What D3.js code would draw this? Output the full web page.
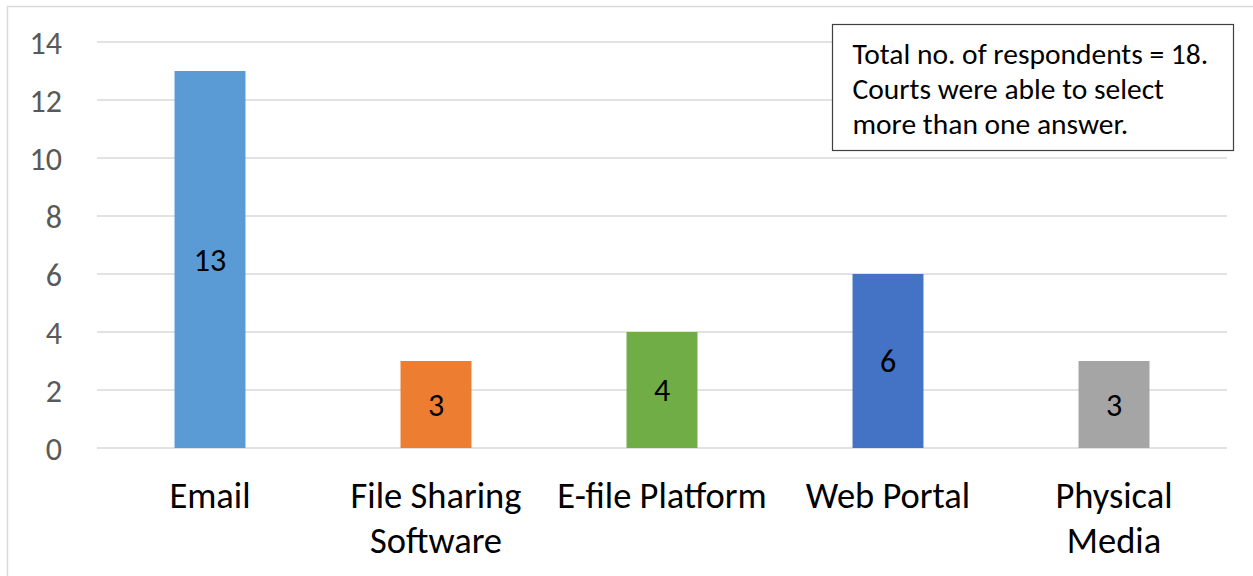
<!DOCTYPE html>
<html>
<head>
<meta charset="utf-8">
<script src="https://cdn.jsdelivr.net/npm/d3@7/dist/d3.min.js"></script>
<style>
  html, body { margin: 0; padding: 0; background: #fff; }
  svg { display: block; }
  text { font-family: Carlito, Calibri, Lato, "Open Sans", sans-serif; }
</style>
</head>
<body>
<svg id="chart" width="1253" height="576"></svg>
<script>
// Data: number of courts using each method to receive files
const categories = ["Email", "File Sharing Software", "E-file Platform", "Web Portal", "Physical Media"];
const categoryLines = [["Email"], ["File Sharing", "Software"], ["E-file Platform"], ["Web Portal"], ["Physical", "Media"]];
const values = [13, 3, 4, 6, 3];
const barColors = ["#5B9BD5", "#ED7D31", "#70AD47", "#4472C4", "#A5A5A5"];
const yTicks = [0, 2, 4, 6, 8, 10, 12, 14];
const noteLines = ["Total no. of respondents = 18.", "Courts were able to select", "more than one answer."];

const W = 1253, H = 576;
const plot = { left: 97, right: 1227, top: 42, bottom: 448 };

const svg = d3.select("#chart");

// outer chart frame (extends past the right and bottom edges)
svg.append("rect")
  .attr("x", 7.5).attr("y", 6.5)
  .attr("width", W + 20).attr("height", H + 20)
  .attr("fill", "#fff")
  .attr("stroke", "#d9d9d9").attr("stroke-width", 1.5);

const x = d3.scaleBand()
  .domain(categories)
  .range([plot.left, plot.right])
  .paddingInner(0.686).paddingOuter(0.343);

const y = d3.scaleLinear().domain([0, 14]).range([plot.bottom, plot.top]);

// horizontal gridlines
svg.append("g")
  .selectAll("line")
  .data(yTicks)
  .join("line")
  .attr("x1", plot.left).attr("x2", plot.right)
  .attr("y1", d => y(d)).attr("y2", d => y(d))
  .attr("stroke", "#d9d9d9").attr("stroke-width", 1.5);

// y axis tick labels
const yAxis = d3.axisLeft(y).tickValues(yTicks).tickSize(0).tickPadding(0);
const gy = svg.append("g").attr("transform", `translate(62,0)`).call(yAxis);
gy.select(".domain").remove();
gy.selectAll("text")
  .attr("fill", "#595959")
  .style("font-size", "32px")
  .attr("dy", "0.35em");

// bars
svg.append("g")
  .selectAll("rect")
  .data(values)
  .join("rect")
  .attr("x", (d, i) => x(categories[i]))
  .attr("width", x.bandwidth())
  .attr("y", d => y(d))
  .attr("height", d => y(0) - y(d))
  .attr("fill", (d, i) => barColors[i]);

// value labels centred inside each bar
svg.append("g")
  .selectAll("text")
  .data(values)
  .join("text")
  .attr("x", (d, i) => x(categories[i]) + x.bandwidth() / 2)
  .attr("y", d => (y(d) + y(0)) / 2)
  .attr("dy", "0.35em")
  .attr("text-anchor", "middle")
  .attr("fill", "#000")
  .style("font-size", "32px")
  .text(d => d);

// category labels, wrapped onto two lines where needed
const cat = svg.append("g")
  .selectAll("text")
  .data(categoryLines)
  .join("text")
  .attr("text-anchor", "middle")
  .attr("fill", "#000")
  .style("font-size", "36.5px")
  .attr("transform", (d, i) => `translate(${x(categories[i]) + x.bandwidth() / 2},508)`);
cat.selectAll("tspan")
  .data(d => d)
  .join("tspan")
  .attr("x", 0)
  .attr("y", (d, i) => i * 45)
  .text(d => d);

// note box
const note = svg.append("g").attr("transform", "translate(832.5,24.5)");
note.append("rect")
  .attr("width", 401).attr("height", 126)
  .attr("fill", "#fff")
  .attr("stroke", "#404040").attr("stroke-width", 1.2);
note.append("g")
  .selectAll("text")
  .data(noteLines)
  .join("text")
  .attr("x", 20)
  .attr("y", (d, i) => 39 + i * 35)
  .attr("fill", "#000")
  .style("font-size", "29.5px")
  .text(d => d);
</script>
</body>
</html>
